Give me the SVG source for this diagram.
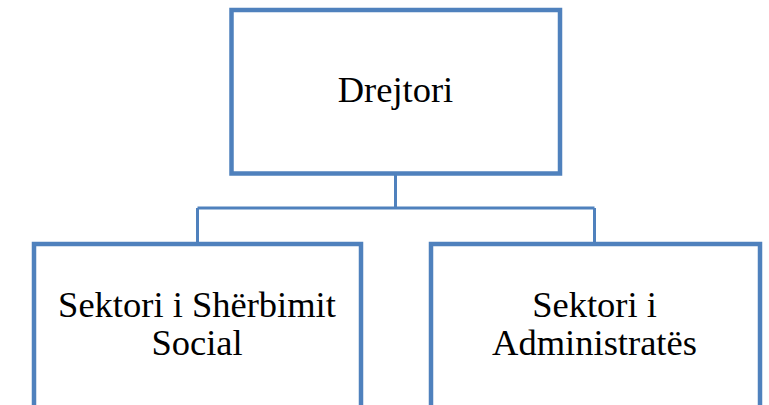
<svg xmlns="http://www.w3.org/2000/svg" width="769" height="405" viewBox="0 0 769 405">
<style>
.box{fill:#fff;stroke:#4F81BD;stroke-width:4.5}
.conn{fill:none;stroke:#4F81BD;stroke-width:3}
text{font-family:'Liberation Serif','Times New Roman',Times,serif;font-size:36.5px;fill:#000;text-anchor:middle}
</style>
<rect width="769" height="405" fill="#fff"/>
<g id="connectors">
<path class="conn" d="M395.5 174 V208 M197.5 208 H594.5 M197.5 208 V244 M594.5 208 V244"/>
</g>
<g id="drejtori">
<rect class="box" x="231.5" y="10" width="328.5" height="163.5"/>
<text x="395.5" y="102" font-family="Liberation Serif, serif">Drejtori</text>
</g>
<g id="sektori-sherbimit">
<rect class="box" x="34" y="244" width="327" height="200"/>
<text x="197" y="316.5" font-family="Liberation Serif, serif">Sektori i Shërbimit</text>
<text x="197" y="355" font-family="Liberation Serif, serif">Social</text>
</g>
<g id="sektori-administrates">
<rect class="box" x="431" y="244" width="329" height="200"/>
<text x="594.5" y="316.5" font-family="Liberation Serif, serif">Sektori i</text>
<text x="594.5" y="355" font-family="Liberation Serif, serif">Administratës</text>
</g>
</svg>
